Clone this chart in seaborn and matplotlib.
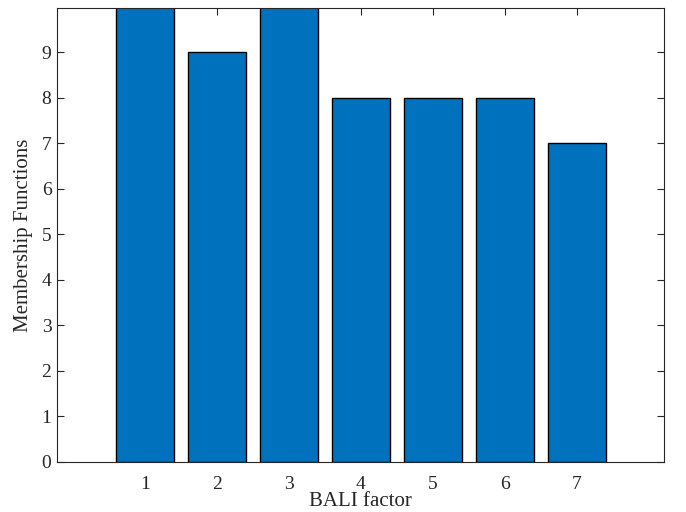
import matplotlib
matplotlib.use("Agg")
import matplotlib.pyplot as plt
import seaborn as sns
import pandas as pd

factors = [1, 2, 3, 4, 5, 6, 7]
membership = [10, 9, 10, 8, 8, 8, 7]
yticks = [0, 1, 2, 3, 4, 5, 6, 7, 8, 9]

sns.set_theme(style="white")
plt.rcParams['font.family'] = ['Liberation Serif', 'DejaVu Serif']

df = pd.DataFrame({"factor": factors, "mf": membership})

fig = plt.figure(figsize=(6.86, 5.12), dpi=100)
ax = fig.add_axes([57/686, 50/512, (664-57)/686, (462-8)/512])
sns.barplot(data=df, x="factor", y="mf", native_scale=True, width=0.8,
            color="#0072BD", saturation=1, edgecolor="black", linewidth=1, ax=ax)
ax.set_xlim(-0.22, 8.21)
ax.set_ylim(0, 9.97)
ax.set_xticks(factors)
ax.set_yticks(yticks)
ax.tick_params(direction="in", length=5, width=0.8, color="#262626",
               labelsize=14, top=True, right=True, bottom=True, left=True,
               labelcolor="#262626")
ax.tick_params(axis="x", pad=10)
ax.tick_params(axis="y", pad=4)
for s in ax.spines.values():
    s.set_visible(True)
    s.set_color("#262626")
    s.set_linewidth(0.8)
ax.set_xlabel("BALI factor", fontsize=15, color="#262626", labelpad=-1)
ax.set_ylabel("Membership Functions", fontsize=15, color="#262626", labelpad=6)
fig.savefig("out.png", dpi=100)
